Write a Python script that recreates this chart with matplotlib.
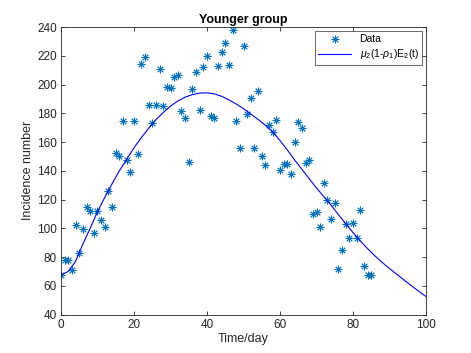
import numpy as np
import matplotlib
matplotlib.use('Agg')
import matplotlib.pyplot as plt

days = list(range(0, 86))
incidence = [67.6, 77.7, 77.7, 70.8, 102.5, 82.6, 99.7, 114.8, 111.8, 96.7,
             111.8, 105.7, 100.6, 125.9, 114.8, 152.3, 150.4, 174.7, 147.6, 138.8,
             174.7, 152.0, 214.3, 218.8, 185.8, 173.5, 185.8, 210.8, 185.0, 198.5,
             197.4, 205.5, 206.5, 181.5, 176.5, 146.0, 197.0, 208.6, 182.6, 211.9,
             219.6, 178.2, 176.6, 212.7, 222.6, 228.7, 213.6, 237.7, 174.5, 155.7,
             226.6, 179.6, 190.9, 155.8, 195.6, 150.6, 143.7, 171.7, 166.9, 175.4,
             140.7, 144.7, 144.7, 137.9, 159.7, 173.8, 169.7, 145.6, 147.8, 109.9,
             111.3, 101.0, 131.5, 119.4, 106.5, 117.6, 71.7, 84.7, 103.2, 93.5,
             103.7, 93.5, 112.4, 73.5, 67.6, 67.6]

# fitted model curve mu2(1-rho1)E2(t), sampled every 2 days
model_t = list(range(0, 101, 2))
model_y = [67.5, 70.0, 77.0, 89.0, 100.0, 111.5, 121.5, 131.0, 140.0, 148.0,
           156.0, 163.0, 169.5, 175.5, 180.5, 185.0, 188.5, 191.2, 193.0, 194.0,
           194.2, 193.5, 191.8, 189.3, 186.5, 183.2, 179.5, 175.7, 171.6, 167.0,
           161.0, 154.5, 147.5, 141.0, 134.5, 128.0, 122.0, 116.0, 109.5, 103.2,
           97.0, 91.2, 85.8, 80.8, 76.2, 72.0, 68.0, 64.0, 60.0, 56.2, 52.5]

plt.rcParams['font.family'] = ['Liberation Sans', 'DejaVu Sans']
plt.rcParams['mathtext.fontset'] = 'custom'
plt.rcParams['mathtext.rm'] = 'Liberation Sans'
plt.rcParams['mathtext.it'] = 'Liberation Sans:italic'

fig = plt.figure(figsize=(4.71, 3.53), dpi=100)
ax = fig.add_axes([0.1295, 0.109, 0.775, 0.8145])

# MATLAB-style asterisk: 8 spokes
ax.plot(days, incidence, linestyle='none', marker=(8, 2, 0), color='#0072BD',
        markersize=5.5, markeredgewidth=0.65, label='Data')
ax.plot(model_t, model_y, '-', color='#0000FF', linewidth=0.8,
        label=r'$\mu_2$(1-$\rho_1$)E$_2$(t)')

ax.set_xlim(0, 100)
ax.set_ylim(40, 240)
ax.set_xticks(range(0, 101, 20))
ax.set_yticks(range(40, 241, 20))

edge = '#262626'
for s in ax.spines.values():
    s.set_color(edge)
    s.set_linewidth(0.6)
ax.tick_params(direction='in', length=3, width=0.6, colors=edge, labelsize=8.5,
               top=True, right=True, pad=3)

ax.set_xlabel('Time/day', fontsize=9, color=edge, labelpad=2)
ax.set_ylabel('Incidence number', fontsize=9, color=edge, labelpad=2)
ax.set_title('Younger group', fontsize=9, fontweight='bold', color='black', pad=3)

leg = ax.legend(loc='upper right', fontsize=7.5, frameon=True, fancybox=False,
                edgecolor=edge, borderaxespad=0.4, handlelength=3.2,
                borderpad=0.3, labelspacing=0.3)
leg.get_frame().set_linewidth(0.6)

fig.savefig('out.png', dpi=100, facecolor='white')
